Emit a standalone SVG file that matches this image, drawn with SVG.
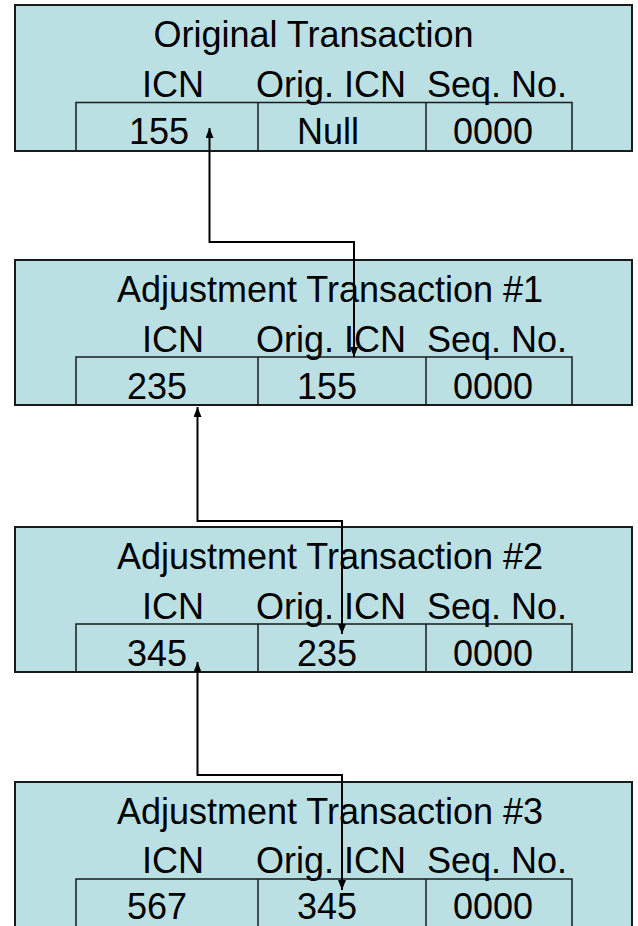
<svg xmlns="http://www.w3.org/2000/svg" width="638" height="926" viewBox="0 0 638 926">
  <style>
    .box { fill: #BBE0E3; stroke: #1a1a1a; stroke-width: 2; }
    .cell { fill: none; stroke: #1a1a1a; stroke-width: 1.5; }
    .t { font-family: "Liberation Sans", Arial, sans-serif; font-size: 36px; fill: #000; }
    .c { text-anchor: middle; }
    .conn { fill: none; stroke: #000; stroke-width: 2; marker-start: url(#arrow); marker-end: url(#arrow); }
  </style>
  <defs>
    <marker id="arrow" viewBox="0 0 10 8" refX="10" refY="4" markerWidth="11" markerHeight="8" markerUnits="userSpaceOnUse" orient="auto-start-reverse">
      <path d="M0,0 L10,4 L0,8 z" fill="#000"/>
    </marker>
  </defs>
  <rect width="638" height="926" fill="#fff"/>

  <g id="orig">
    <rect class="box" x="15" y="5" width="617" height="146"/>
    <rect class="cell" x="76" y="102.5" width="496" height="48.5"/>
    <line class="cell" x1="258" y1="102.5" x2="258" y2="151"/>
    <line class="cell" x1="426" y1="102.5" x2="426" y2="151"/>
    <text class="t c" x="313.5" y="47">Original Transaction</text>
    <text class="t" x="142" y="97">ICN</text>
    <text class="t" x="256" y="97">Orig. ICN</text>
    <text class="t" x="427" y="97">Seq. No.</text>
    <text class="t" x="129" y="144">155</text>
    <text class="t" x="297" y="144">Null</text>
    <text class="t" x="453" y="144">0000</text>
  </g>

  <g id="adj1">
    <rect class="box" x="15" y="260" width="617" height="145"/>
    <rect class="cell" x="76" y="357" width="496" height="48"/>
    <line class="cell" x1="258" y1="357" x2="258" y2="405"/>
    <line class="cell" x1="426" y1="357" x2="426" y2="405"/>
    <text class="t c" x="330" y="302">Adjustment Transaction #1</text>
    <text class="t" x="142" y="352">ICN</text>
    <text class="t" x="256" y="352">Orig. ICN</text>
    <text class="t" x="427" y="352">Seq. No.</text>
    <text class="t" x="127" y="399">235</text>
    <text class="t" x="297" y="399">155</text>
    <text class="t" x="453" y="399">0000</text>
  </g>

  <g id="adj2">
    <rect class="box" x="15" y="527" width="617" height="145"/>
    <rect class="cell" x="76" y="624" width="496" height="48"/>
    <line class="cell" x1="258" y1="624" x2="258" y2="672"/>
    <line class="cell" x1="426" y1="624" x2="426" y2="672"/>
    <text class="t c" x="330" y="569">Adjustment Transaction #2</text>
    <text class="t" x="142" y="619">ICN</text>
    <text class="t" x="256" y="619">Orig. ICN</text>
    <text class="t" x="427" y="619">Seq. No.</text>
    <text class="t" x="127" y="666">345</text>
    <text class="t" x="297" y="666">235</text>
    <text class="t" x="453" y="666">0000</text>
  </g>

  <g id="adj3">
    <rect class="box" x="15" y="782" width="617" height="160"/>
    <rect class="cell" x="76" y="879" width="496" height="60"/>
    <line class="cell" x1="258" y1="879" x2="258" y2="940"/>
    <line class="cell" x1="426" y1="879" x2="426" y2="940"/>
    <text class="t c" x="330" y="824">Adjustment Transaction #3</text>
    <text class="t" x="142" y="873">ICN</text>
    <text class="t" x="256" y="873">Orig. ICN</text>
    <text class="t" x="427" y="873">Seq. No.</text>
    <text class="t" x="127" y="919">567</text>
    <text class="t" x="297" y="919">345</text>
    <text class="t" x="453" y="919">0000</text>
  </g>

  <g id="connectors">
    <path class="conn" d="M209.5,128 V242 H354 V357"/>
    <path class="conn" d="M197.5,407 V521 H342 V634"/>
    <path class="conn" d="M197.5,662 V775 H342 V890"/>
  </g>
</svg>
